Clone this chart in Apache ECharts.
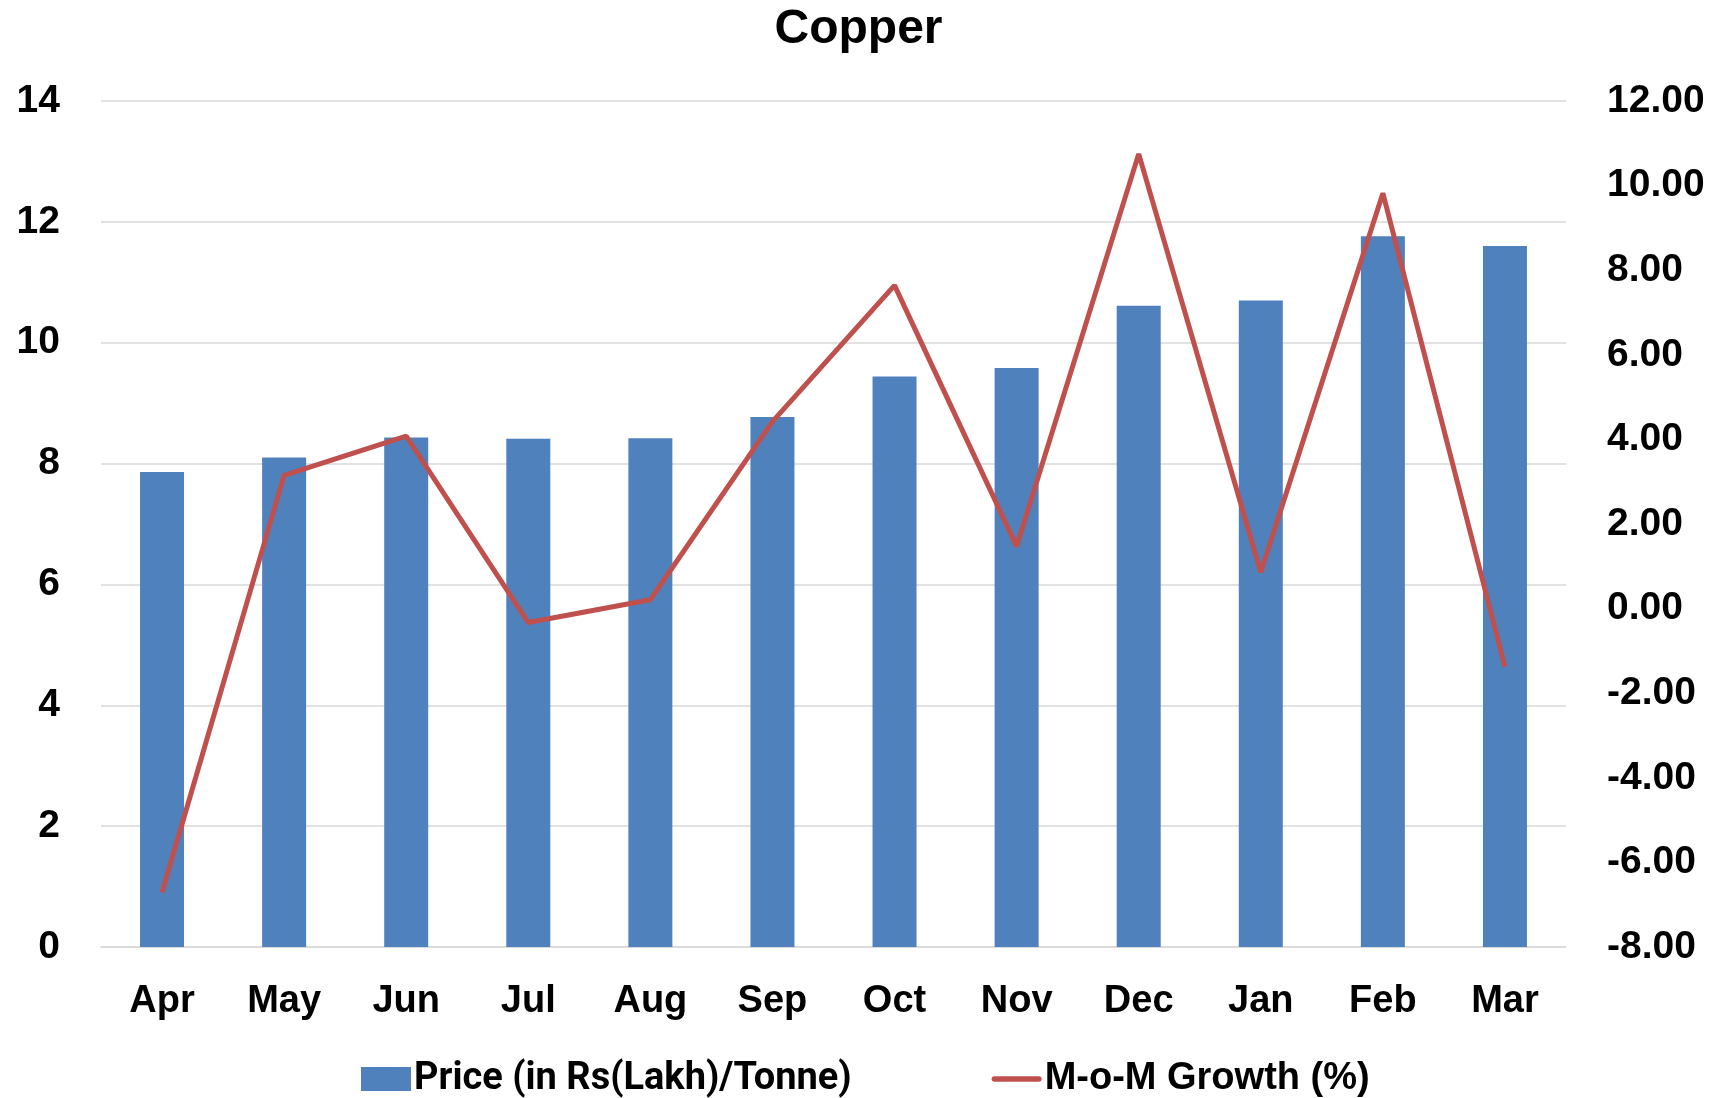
<!DOCTYPE html>
<html>
<head>
<meta charset="utf-8">
<script src="https://cdn.jsdelivr.net/npm/echarts@6/dist/echarts.min.js"></script>
<style>
html,body{margin:0;padding:0;background:#fff;}
#chart{width:1717px;height:1098px;}
</style>
</head>
<body>
<div id="chart"></div>
<script>
const months = ['Apr','May','Jun','Jul','Aug','Sep','Oct','Nov','Dec','Jan','Feb','Mar'];
const price = [7.86, 8.10, 8.43, 8.41, 8.42, 8.77, 9.44, 9.58, 10.61, 10.70, 11.76, 11.60];
const growth = [-6.71, 3.15, 4.08, -0.33, 0.21, 4.42, 7.64, 1.47, 10.75, 0.86, 9.82, -1.38];
const seriesNames = ['Price (in Rs(Lakh)/Tonne)', 'M-o-M Growth (%)'];

const chart = echarts.init(document.getElementById('chart'), null, {renderer:'canvas'});
const baseFont = 'Liberation Sans, Arial, sans-serif';
chart.setOption({
  animation: false,
  backgroundColor: '#ffffff',
  title: {
    text: 'Copper',
    left: 'center',
    top: 1,
    textStyle: {fontFamily: baseFont, fontWeight: 'bold', fontSize: 48, color: '#000'}
  },
  legend: {
    left: 356,
    top: 1055,
    itemGap: 140,
    itemWidth: 50,
    itemHeight: 24,
    textStyle: {fontFamily: baseFont, fontWeight: 'bold', fontSize: 38, color: '#000', padding: [0,0,0,-2]},
    data: [
      {name: seriesNames[0], icon: 'rect', textStyle: {fontFamily: 'Roboto, Liberation Sans, sans-serif', fontWeight: 'bold', fontSize: 38}},
      {name: seriesNames[1], icon: 'path://M0,0L0,0ZM3,9L52,9A3,3,0,0,1,52,15L3,15A3,3,0,0,1,3,9ZM55,24L55,24Z'}
    ]
  },
  grid: {left: 101, right: 151, top: 101, bottom: 151, containLabel: false},
  xAxis: {
    type: 'category',
    data: months,
    axisLine: {show: true, lineStyle: {color: '#d9d9d9', width: 1.5}},
    axisTick: {show: false},
    axisLabel: {fontFamily: baseFont, fontWeight: 'bold', fontSize: 38, color: '#000', margin: 36}
  },
  yAxis: [
    {
      type: 'value', min: 0, max: 14, interval: 2,
      axisLine: {show: false}, axisTick: {show: false},
      splitLine: {show: true, lineStyle: {color: '#d9d9d9', width: 1.5}},
      axisLabel: {fontFamily: baseFont, fontWeight: 'bold', fontSize: 39, color: '#000', margin: 41}
    },
    {
      type: 'value', min: -8, max: 12, interval: 2, position: 'right',
      axisLine: {show: false}, axisTick: {show: false},
      splitLine: {show: false},
      axisLabel: {fontFamily: baseFont, fontWeight: 'bold', fontSize: 39, color: '#000', margin: 41,
        formatter: v => v.toFixed(2)}
    }
  ],
  series: [
    {
      name: seriesNames[0], type: 'bar', data: price, yAxisIndex: 0,
      barWidth: 44,
      itemStyle: {color: '#4F81BD'}
    },
    {
      name: seriesNames[1], type: 'line', data: growth, yAxisIndex: 1,
      symbol: 'none',
      lineStyle: {color: '#C0504D', width: 5},
      itemStyle: {color: '#C0504D'}
    }
  ]
});
</script>
</body>
</html>
